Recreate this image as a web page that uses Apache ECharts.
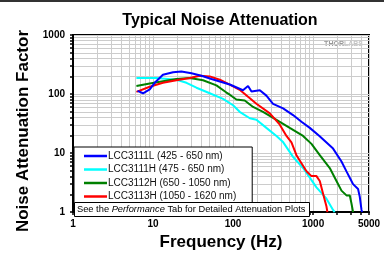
<!DOCTYPE html>
<html>
<head>
<meta charset="utf-8">
<script src="https://cdn.jsdelivr.net/npm/echarts@6/dist/echarts.min.js"></script>
<style>
  html, body { margin: 0; padding: 0; background: #fff; }
  #chart { width: 384px; height: 256px; }
</style>
</head>
<body>
<div id="chart"></div>
<script>
// values (log-log)
const names = ['LCC3111L (425 - 650 nm)', 'LCC3111H (475 - 650 nm)', 'LCC3112H (650 - 1050 nm)', 'LCC3113H (1050 - 1620 nm)']
const colors = ['#0000ff', '#00ffff', '#008000', '#ff0000']

const blueFreq = [6.4, 7.5, 9.1, 10.5, 13.3, 17.8, 22.6, 30.2, 40.3, 53.7, 91, 133, 154, 170, 216, 261, 316, 422, 562, 716, 910, 1200, 1778, 2265, 2615, 2875, 3162, 3650, 3835, 4030, 4100]
const blueVal = [113, 103, 120, 155, 212, 234, 240, 225, 204, 180, 145, 116, 137, 110, 116, 94, 68, 57, 44, 34, 26.7, 19.5, 11.9, 7.2, 4.9, 3.83, 2.98, 2.47, 1.81, 1.09, 1]

const cyanFreq = [6.2, 11, 19.6, 26.2, 34.9, 51.1, 75, 100, 121, 162, 196, 261, 349, 418, 562, 750, 910, 1103, 1471, 1778, 1862]
const cyanVal = [187, 187, 175, 155, 128, 103, 82.6, 64.5, 50, 38.9, 36.6, 26.7, 19.5, 15.6, 8.6, 5.58, 3.83, 2.63, 1.69, 1.09, 1]

const greenFreq = [6.2, 9.1, 13.3, 19.6, 28.8, 42.2, 62, 82.7, 91, 110, 140, 178, 237, 349, 511, 750, 955, 1213, 1617, 1961, 2265, 2615, 2875, 3020, 3162]
const greenVal = [137, 151, 165, 180, 187, 171, 140, 106, 97.4, 80.7, 77.8, 60.4, 50, 36.6, 26.7, 19.5, 14.3, 9.2, 5.58, 3.37, 2.31, 1.92, 1.92, 1.4, 1]

const redFreq = [6.2, 9.1, 13.3, 19.6, 28.8, 38.4, 51.1, 68.2, 91, 121, 196, 288, 384, 465, 537, 620, 827, 955, 1103, 1213, 1334, 1471, 1510]
const redVal = [109, 133, 155, 171, 187, 204, 199, 175, 144, 118, 68.4, 47, 30.3, 19.5, 15.2, 9.2, 4.91, 4.07, 4.07, 3.37, 2.04, 1.24, 1]

const xLabels = [1, 10, 100, 1000, 5000]
const yLabels = [1, 10, 100, 1000]
const xTicks = [1, 2, 3, 4, 5, 6, 7, 8, 9, 10, 20, 30, 40, 50, 60, 70, 80, 90, 100, 200, 300, 400, 500, 600, 700, 800, 900, 1000, 2000, 3000, 4000, 5000]
const yTicks = [1, 2, 3, 4, 5, 6, 7, 8, 9, 10, 20, 30, 40, 50, 60, 70, 80, 90, 100, 200, 300, 400, 500, 600, 700, 800, 900, 1000]

const font = 'Arial, "Liberation Sans", sans-serif'

function pairs(xs, ys) {
  return xs.map((x, i) => [x, ys[i]])
}

const lines = [
  { name: names[1], color: colors[1], data: pairs(cyanFreq, cyanVal) },
  { name: names[2], color: colors[2], data: pairs(greenFreq, greenVal) },
  { name: names[3], color: colors[3], data: pairs(redFreq, redVal) },
  { name: names[0], color: colors[0], data: pairs(blueFreq, blueVal) }
]

let myChart = echarts.init(document.getElementById('chart'), null, { renderer: 'canvas' })

const option = {
  animation: false,
  backgroundColor: '#fff',
  textStyle: { fontFamily: font },
  title: [{
    text: 'Typical Noise Attenuation',
    left: 215,
    textAlign: 'center',
    top: 8,
    textStyle: { fontSize: 16, fontWeight: 'bold', color: '#000', fontFamily: font }
  }, {
    text: 'See the {i|Performance} Tab for Detailed Attenuation Plots',
    left: 74,
    top: 202,
    padding: [3, 4, 3, 3],
    borderColor: '#000',
    borderWidth: 1,
    backgroundColor: '#fff',
    textStyle: {
      fontSize: 9.3, fontWeight: 'normal', color: '#000', fontFamily: font,
      rich: { i: { fontSize: 9.3, fontStyle: 'italic', fontFamily: font } }
    },
    z: 10
  }],
  grid: {
    left: 73, right: 15, top: 35, bottom: 37,
    show: true, borderColor: '#000', borderWidth: 2, backgroundColor: 'transparent'
  },
  legend: {
    data: names,
    orient: 'vertical',
    left: 74,
    top: 147,
    padding: [4, 16, 4, 10],
    icon: 'rect',
    itemGap: 3.5,
    itemWidth: 23,
    itemHeight: 2.5,
    borderColor: '#000',
    borderWidth: 1,
    backgroundColor: '#fff',
    textStyle: { fontSize: 10, color: '#111', fontFamily: font, padding: [0, 0, 0, -4], lineHeight: 9 },
    z: 10
  },
  xAxis: {
    type: 'log',
    min: 1, max: 5000,
    name: 'Frequency (Hz)',
    nameLocation: 'middle',
    nameGap: 20,
    nameTextStyle: { fontSize: 17, fontWeight: 'bold', color: '#000', fontFamily: font },
    axisLine: { show: true, lineStyle: { color: '#000', width: 2 } },
    axisTick: { show: true, customValues: xTicks, length: 3, lineStyle: { color: '#000', width: 1.5 } },
    axisLabel: {
      customValues: xLabels, margin: 7, fontSize: 10, fontWeight: 'bold', color: '#000',
      formatter: v => String(Math.round(v))
    },
    splitLine: { show: true, lineStyle: { color: '#cccccc', width: 1 } }
  },
  yAxis: {
    type: 'log',
    min: 1, max: 1000,
    name: 'Noise Attenuation Factor',
    nameLocation: 'middle',
    nameGap: 41,
    nameTextStyle: { fontSize: 17, fontWeight: 'bold', color: '#000', fontFamily: font, padding: [0, 15, 0, 0] },
    axisLine: { show: true, lineStyle: { color: '#000', width: 2 } },
    axisTick: { show: true, customValues: yTicks, length: 3, lineStyle: { color: '#000', width: 1.5 } },
    axisLabel: {
      customValues: yLabels, margin: 8, fontSize: 10, fontWeight: 'bold', color: '#000',
      formatter: v => String(Math.round(v))
    },
    splitLine: { show: true, lineStyle: { color: '#cccccc', width: 1 } }
  },
  graphic: [{
    type: 'rect',
    shape: { x: 0, y: 0, width: 384, height: 2 },
    style: { fill: '#333' }
  }, {
    type: 'text',
    x: 363, y: 44,
    style: {
      text: '{a|THOR}{b|LABS}',
      align: 'right', verticalAlign: 'middle',
      rich: {
        a: { fontSize: 7, fontWeight: 'bold', fill: '#999', fontFamily: font },
        b: { fontSize: 7, fontWeight: 'bold', fill: '#c4c4c4', fontFamily: font }
      }
    }
  }],
  series: lines.map(l => ({
    name: l.name,
    type: 'line',
    data: l.data,
    symbol: 'none',
    clip: true,
    lineStyle: { color: l.color, width: 2 },
    itemStyle: { color: l.color }
  }))
}

myChart.setOption(option)
</script>
</body>
</html>
